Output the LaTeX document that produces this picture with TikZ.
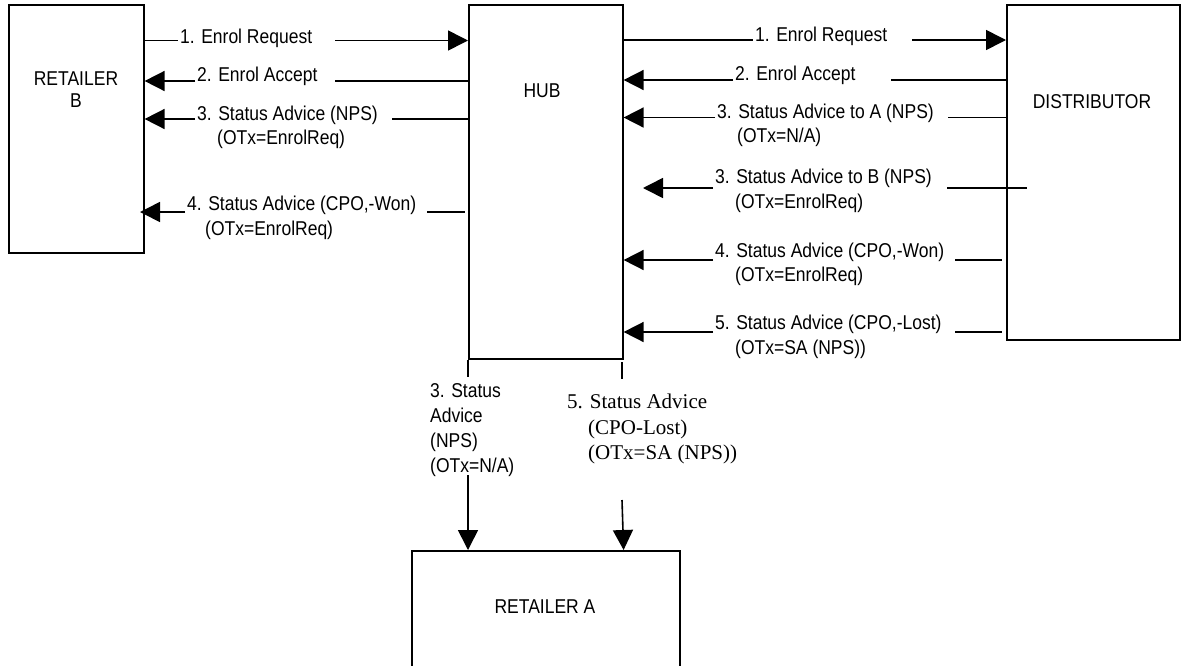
\documentclass[tikz,border=0pt]{standalone}
\usepackage{fontspec}
\setmainfont[FakeStretch=0.875]{Liberation Sans}
\newfontfamily\seriffont{Liberation Serif}
\usetikzlibrary{arrows.meta}
\tikzset{
  box/.style={draw, line width=1.6pt, inner sep=0pt, anchor=north west},
  ln/.style={line width=1.6pt},
  arr/.style={line width=1.6pt, -{Triangle[length=20pt,width=20pt]}},
  lbl/.style={inner sep=0pt, anchor=base west, font=\fontsize{20}{24}\selectfont},
  slbl/.style={inner sep=0pt, anchor=base west, font=\fontsize{21}{25}\seriffont},
  title/.style={inner sep=0pt, anchor=base, font=\fontsize{20}{24}\selectfont},
}
\begin{document}
\begin{tikzpicture}[x=1pt,y=-1pt]
\useasboundingbox (0,0) rectangle (1181,665);
% boxes
\node[box, minimum width=135pt, minimum height=248pt] (rb) at (8,4) {};
\node[box, minimum width=154pt, minimum height=354pt] (hub) at (468,4) {};
\node[box, minimum width=173pt, minimum height=335pt] (dist) at (1006,4) {};
\node[box, minimum width=268pt, minimum height=130pt] (ra) at (411,550) {};
% box titles
\node[title] (rbt1) at (76,85) {RETAILER};
\node[title] (rbt2) at (76,107) {B};
\node[title] (hubt) at (542,97) {HUB};
\node[title] (distt) at (1092,108) {DISTRIBUTOR};
\node[title] (rat) at (545,613) {RETAILER A};
% left side messages
\draw[ln] (rb.east |- 0,40.5) -- (178,40.5);
\draw[arr] (335,40.5) -- (hub.west |- 0,40.5);
\node[lbl] (l1) at (180,43) {1. Enrol Request};
\draw[arr] (195,81) -- (rb.east |- 0,81);
\draw[ln] (335,81) -- (hub.west |- 0,81);
\node[lbl] (l2) at (197,81.5) {2. Enrol Accept};
\draw[arr] (195,119) -- (rb.east |- 0,119);
\draw[ln] (392,119) -- (hub.west |- 0,119);
\node[lbl] (l3) at (197,120) {3. Status Advice (NPS)};
\node[lbl] (l3b) at (217,144) {(OTx=EnrolReq)};
\coordinate (l4s) at (465,212);
\coordinate (l4e) at (140,212);
\draw[arr] (185,212) -- (l4e);
\draw[ln] (427,212) -- (l4s);
\node[lbl] (l4) at (187,210.5) {4. Status Advice (CPO,-Won)};
\node[lbl] (l4b) at (205,235) {(OTx=EnrolReq)};
% right side messages
\draw[ln] (hub.east |- 0,40) -- (753,40);
\draw[arr] (912,40) -- (dist.west |- 0,40);
\node[lbl] (r1) at (755,41) {1. Enrol Request};
\draw[arr] (733,80) -- (hub.east |- 0,80);
\draw[ln] (891,80) -- (dist.west |- 0,80);
\node[lbl] (r2) at (735,80) {2. Enrol Accept};
\draw[arr] (715,117.5) -- (hub.east |- 0,117.5);
\draw[ln] (948,117.5) -- (dist.west |- 0,117.5);
\node[lbl] (r3) at (717,118) {3. Status Advice to A (NPS)};
\node[lbl] (r3b) at (737,142.5) {(OTx=N/A)};
\coordinate (r3ce) at (643,188);
\coordinate (r3cs) at (1027,188);
\draw[arr] (713,188) -- (r3ce);
\draw[ln] (947,188) -- (r3cs);
\node[lbl] (r3c) at (715,183.5) {3. Status Advice to B (NPS)};
\node[lbl] (r3d) at (735,208) {(OTx=EnrolReq)};
\coordinate (r4s) at (1002,260);
\draw[arr] (713,260) -- (hub.east |- 0,260);
\draw[ln] (955,260) -- (r4s);
\node[lbl] (r4) at (715,257.3) {4. Status Advice (CPO,-Won)};
\node[lbl] (r4b) at (735,281.7) {(OTx=EnrolReq)};
\coordinate (r5s) at (1002,332);
\draw[arr] (713,332) -- (hub.east |- 0,332);
\draw[ln] (955,332) -- (r5s);
\node[lbl] (r5) at (715,329.3) {5. Status Advice (CPO,-Lost)};
\node[lbl] (r5b) at (735,354) {(OTx=SA (NPS))};
% bottom messages
\draw[ln] (hub.south west) -- (468,377);
\draw[arr] (468,475) -- (ra.north -| hub.south west);
\node[lbl] (b1) at (430,397) {3. Status};
\node[lbl] (b2) at (430,422) {Advice};
\node[lbl] (b3) at (430,447) {(NPS)};
\node[lbl] (b4) at (430,472) {(OTx=N/A)};
\coordinate (bgap) at (622,362);
\draw[ln] (bgap) -- (622,379);
\draw[arr] (622,500) -- (ra.north -| hub.south east);
\node[slbl] (s1) at (567,408) {5. Status Advice};
\node[slbl] (s2) at (588,434) {(CPO-Lost)};
\node[slbl] (s3) at (588,459) {(OTx=SA (NPS))};
\end{tikzpicture}
\end{document}
